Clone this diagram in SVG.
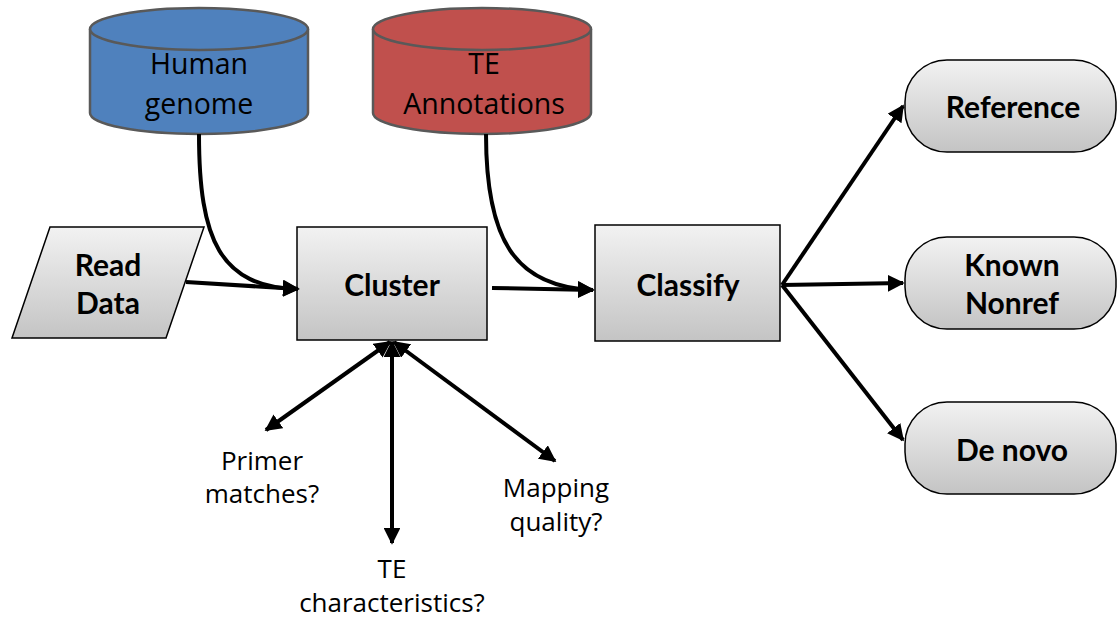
<svg xmlns="http://www.w3.org/2000/svg" width="1117" height="627" viewBox="0 0 1117 627">
<defs>
<linearGradient id="g" x1="0" y1="0" x2="0" y2="1">
<stop offset="0" stop-color="#f2f2f2"/>
<stop offset="1" stop-color="#c4c4c4"/>
</linearGradient>
<marker id="ah" viewBox="0 0 10 10" refX="9" refY="5" markerWidth="4.2" markerHeight="4.2" orient="auto-start-reverse" markerUnits="strokeWidth">
<path d="M0,0 L10,5 L0,10 z" fill="#000"/>
</marker>
</defs>
<style>
.box{fill:url(#g);stroke:#000;stroke-width:1.5}
.cyl{stroke:#595959;stroke-width:2.5}
.lbl{font-family:"Open Sans",Lato,sans-serif;font-size:28.5px;fill:#000;text-anchor:middle}
.b{font-family:Lato,"Open Sans",sans-serif;font-weight:bold;font-size:30px}
.sm{font-family:"Open Sans",Lato,sans-serif;font-size:26px;fill:#000;text-anchor:middle}
.c{fill:none;stroke:#000;stroke-width:4}
</style>
<g id="human-genome">
<path class="cyl" fill="#4F81BD" d="M90,29 L90,113 A109,21 0 0 0 308,113 L308,29"/>
<ellipse class="cyl" fill="#4F81BD" cx="199" cy="29" rx="109" ry="21"/>
<text class="lbl" x="199" y="74">Human</text>
<text class="lbl" x="199" y="114">genome</text>
</g>
<g id="te-annotations">
<path class="cyl" fill="#C0504D" d="M373,29 L373,113 A109,21 0 0 0 591,113 L591,29"/>
<ellipse class="cyl" fill="#C0504D" cx="482" cy="29" rx="109" ry="21"/>
<text class="lbl" x="484" y="74">TE</text>
<text class="lbl" x="484" y="114">Annotations</text>
</g>
<g id="read-data">
<polygon class="box" points="50,227 204,227 166,338 12,338"/>
<text class="lbl b" x="108" y="276">Read</text>
<text class="lbl b" x="108" y="314">Data</text>
</g>
<g id="cluster">
<rect class="box" x="297" y="227" width="190" height="113"/>
<text class="lbl b" x="392" y="296">Cluster</text>
</g>
<g id="classify">
<rect class="box" x="595" y="225" width="185" height="116"/>
<text class="lbl b" x="688" y="296">Classify</text>
</g>
<g id="reference">
<rect class="box" x="905" y="60" width="211" height="92" rx="42" ry="42"/>
<text class="lbl b" x="1013" y="118">Reference</text>
</g>
<g id="known-nonref">
<rect class="box" x="905" y="237" width="211" height="92" rx="42" ry="42"/>
<text class="lbl b" x="1012" y="276">Known</text>
<text class="lbl b" x="1012" y="314">Nonref</text>
</g>
<g id="de-novo">
<rect class="box" x="905" y="402" width="211" height="92" rx="42" ry="42"/>
<text class="lbl b" x="1012" y="461">De novo</text>
</g>
<g id="question-labels">
<text class="sm" x="262" y="470">Primer</text>
<text class="sm" x="262" y="503">matches?</text>
<text class="sm" x="556" y="497">Mapping</text>
<text class="sm" x="556" y="531">quality?</text>
<text class="sm" x="392" y="578">TE</text>
<text class="sm" x="392" y="612">characteristics?</text>
</g>
<g id="connectors">
<path class="c" d="M186,282 L298,289" marker-end="url(#ah)"/>
<path class="c" d="M199,134 C199,240 220,287 298,289" marker-end="url(#ah)"/>
<path class="c" d="M492,288 L593,290" marker-end="url(#ah)"/>
<path class="c" d="M486,134 C486,240 515,287 593,290" marker-end="url(#ah)"/>
<path class="c" d="M782,285 L903,106" marker-end="url(#ah)"/>
<path class="c" d="M782,285 L903,283" marker-end="url(#ah)"/>
<path class="c" d="M782,285 L903,440" marker-end="url(#ah)"/>
<path class="c" d="M390,342 L266,430" marker-start="url(#ah)" marker-end="url(#ah)"/>
<path class="c" d="M392,342 L392,543" marker-start="url(#ah)" marker-end="url(#ah)"/>
<path class="c" d="M394,342 L555,461" marker-start="url(#ah)" marker-end="url(#ah)"/>
</g>
</svg>
